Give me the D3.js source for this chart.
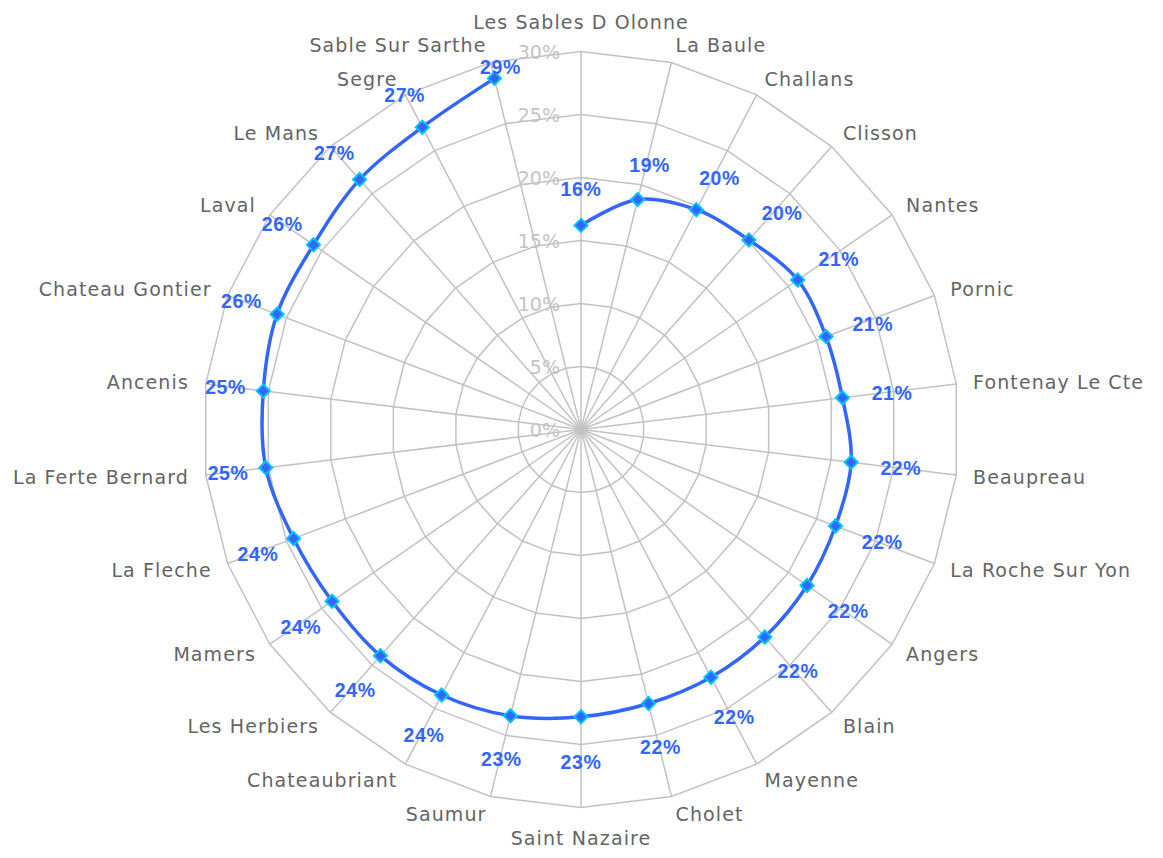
<!DOCTYPE html>
<html>
<head>
<meta charset="utf-8">
<script src="https://cdn.jsdelivr.net/npm/d3@7"></script>
<style>
  body { margin: 0; background: #fff; }
  svg { display: block; }
</style>
</head>
<body>
<div class="canvas"></div>
<script>
// categories clockwise from the top
const cities = [
  'Les Sables D Olonne', 'La Baule', 'Challans', 'Clisson', 'Nantes', 'Pornic',
  'Fontenay Le Cte', 'Beaupreau', 'La Roche Sur Yon', 'Angers', 'Blain', 'Mayenne',
  'Cholet', 'Saint Nazaire', 'Saumur', 'Chateaubriant', 'Les Herbiers', 'Mamers',
  'La Fleche', 'La Ferte Bernard', 'Ancenis', 'Chateau Gontier', 'Laval', 'Le Mans',
  'Segre', 'Sable Sur Sarthe'
];
const rates = [
  16.2, 18.8, 19.7, 20.1, 20.9, 20.8,
  20.9, 21.6, 21.6, 21.8, 22.0, 22.2,
  22.4, 22.8, 23.4, 23.8, 24.0, 24.0,
  24.4, 25.2, 25.4, 25.8, 25.8, 26.5,
  27.1, 28.7
];
const ticks = [0, 5, 10, 15, 20, 25, 30];

const width = 1163;
const height = 858;
const cx = 581, cy = 429.5;
const outer = 378;

const svg = d3.select('.canvas')
  .append('svg')
    .attr('width', width)
    .attr('height', height);

const g = svg.append('g')
  .attr('transform', `translate(${cx}, ${cy})`);

const r = d3.scaleLinear().domain([0, 30]).range([0, outer]);
const angle = d3.scaleLinear().domain([0, cities.length]).range([0, 2 * Math.PI]);

const pos = (i, v) => [Math.sin(angle(i)) * r(v), -Math.cos(angle(i)) * r(v)];

// rings
const ring = d3.line().curve(d3.curveLinearClosed);
g.selectAll('.ring')
  .data(ticks.slice(1))
  .enter()
  .append('path')
    .attr('d', t => ring(cities.map((c, i) => pos(i, t))))
    .attr('fill', 'none')
    .attr('stroke', '#c2c2c2')
    .attr('stroke-width', 1.5);

// spokes
g.selectAll('.spoke')
  .data(cities)
  .enter()
  .append('line')
    .attr('x1', 0).attr('y1', 0)
    .attr('x2', (d, i) => pos(i, 30)[0])
    .attr('y2', (d, i) => pos(i, 30)[1])
    .attr('stroke', '#c2c2c2')
    .attr('stroke-width', 1.5);

// tick labels
g.selectAll('.tick')
  .data(ticks)
  .enter()
  .append('text')
    .attr('x', -21)
    .attr('y', t => -r(t))
    .attr('text-anchor', 'end')
    .attr('dominant-baseline', 'central')
    .attr('font-family', 'DejaVu Sans, Verdana, sans-serif')
    .attr('font-size', 19)
    .attr('fill', '#c4c4c4')
    .text(t => t + '%');

// category labels
g.selectAll('.cat')
  .data(cities)
  .enter()
  .append('text')
    .each(function(d, i) {
      const s = Math.sin(angle(i)), c = -Math.cos(angle(i));
      const [vx, vy] = pos(i, 30);
      const el = d3.select(this);
      if (Math.abs(s) < 0.01) {
        el.attr('x', vx).attr('y', vy + c * 30).attr('text-anchor', 'middle');
      } else {
        el.attr('x', vx + s * 17).attr('y', vy + c * 18)
          .attr('text-anchor', s > 0 ? 'start' : 'end');
      }
    })
    .attr('dominant-baseline', 'central')
    .attr('font-family', 'DejaVu Sans, Verdana, sans-serif')
    .attr('font-size', 19)
    .attr('letter-spacing', 1.1)
    .attr('fill', '#646464')
    .text(d => d);

// series line
const line = d3.line()
  .x((d, i) => pos(i, d)[0])
  .y((d, i) => pos(i, d)[1])
  .curve(d3.curveCatmullRom.alpha(0.5));

g.append('path')
  .datum(rates)
  .attr('d', line)
  .attr('fill', 'none')
  .attr('stroke', '#3366ff')
  .attr('stroke-width', 3.5);

// markers
g.selectAll('.pt')
  .data(rates)
  .enter()
  .append('path')
    .attr('d', d3.symbol().type(d3.symbolDiamond2).size(110))
    .attr('transform', (d, i) => `translate(${pos(i, d)[0]}, ${pos(i, d)[1]})`)
    .attr('fill', '#3366ff')
    .attr('stroke', '#00c2ff')
    .attr('stroke-width', 2);

// value labels
g.selectAll('.val')
  .data(rates)
  .enter()
  .append('text')
    .each(function(d, i) {
      const s = Math.sin(angle(i)), c = -Math.cos(angle(i));
      const [px, py] = pos(i, d);
      let x = px + s * (s > 0 ? 50 : 38);
      let y = py + c * (c > 0 ? 45 : 36);
      // keep the top label clear of the axis tick text
      if (y < 66 - cy) { y = 67 - cy; x = px + 6; }
      d3.select(this).attr('x', x).attr('y', y);
    })
    .attr('text-anchor', 'middle')
    .attr('dominant-baseline', 'central')
    .attr('font-family', 'Liberation Sans, Arial, sans-serif')
    .attr('font-weight', 'bold')
    .attr('font-size', 19.5)
    .attr('letter-spacing', 0.6)
    .attr('fill', '#3366ff')
    .text(d => Math.round(d) + '%');
</script>
</body>
</html>
